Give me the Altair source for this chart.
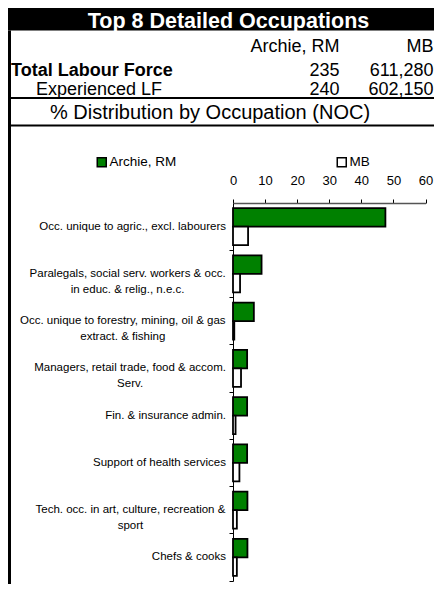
import altair as alt
import pandas as pd

# ---------------- data ----------------
categories = [
    "Occ. unique to agric., excl. labourers",
    "Paralegals, social serv. workers & occ.\nin educ. & relig., n.e.c.",
    "Occ. unique to forestry, mining, oil & gas\nextract. & fishing",
    "Managers, retail trade, food & accom.\nServ.",
    "Fin. & insurance admin.",
    "Support of health services",
    "Tech. occ. in art, culture, recreation &\nsport",
    "Chefs & cooks",
]
series = ["Archie, RM", "MB"]
archie_values = [47.5, 8.9, 6.5, 4.4, 4.4, 4.4, 4.5, 4.5]
mb_values = [4.7, 2.2, 0.4, 2.5, 0.8, 2.0, 1.2, 1.2]
x_ticks = [0, 10, 20, 30, 40, 50, 60]

title_text = "Top 8 Detailed Occupations"
subtitle_text = "% Distribution by Occupation (NOC)"
row_labels = ["Total Labour Force", "Experienced LF"]
total_lf = [235, 611280]
experienced_lf = [240, 602150]

# ---------------- layout ----------------
FONT = "Liberation Sans, Arial, sans-serif"
PAD_L, PAD_T = 225, 195          # plot origin inside chart
W, H = 192.5, 378
CHART_W, CHART_H = 426, 576
OX, OY = PAD_L + 8, PAD_T + 8    # plot origin in page coordinates
X_MAX = 60
RIGHT = 433.5                     # right edge of visible page area

# Arial / Helvetica advance widths (per 1000 em)
_widths = dict(zip("abcdefghijklmnopqrstuvwxyz",
                   [556, 556, 500, 556, 556, 278, 556, 556, 222, 222, 500, 222, 833,
                    556, 556, 556, 556, 333, 500, 278, 556, 500, 722, 500, 500, 500]))
_widths.update(zip("ABCDEFGHIJKLMNOPQRSTUVWXYZ",
                   [667, 667, 722, 722, 667, 611, 778, 722, 278, 500, 667, 556, 833,
                    722, 778, 667, 778, 722, 667, 611, 722, 667, 944, 667, 667, 611]))
_widths.update({" ": 278, ".": 278, ",": 278, "&": 667, "-": 333, "(": 333,
                ")": 333, "%": 889})
_widths.update({d: 556 for d in "0123456789"})


def text_width(s, size):
    return max(sum(_widths.get(c, 556) for c in line) for line in s.split("\n")) * size / 1000


LABEL_SIZE = 11.5
px_per_unit = W / X_MAX

rows = []
for c, a, m in zip(categories, archie_values, mb_values):
    rows.append({"cat": c, "series": series[0], "value": a})
    rows.append({"cat": c, "series": series[1], "value": m})
bars_df = pd.DataFrame(rows)

labels_df = pd.DataFrame({"cat": categories})
labels_df["cx"] = [(-7 - text_width(c, LABEL_SIZE) / 2) / px_per_unit for c in categories]

dummy = pd.DataFrame({"a": [0]})

x_scale = alt.Scale(domain=[0, X_MAX], nice=False, zero=True)
y_scale = alt.Scale(domain=categories, paddingInner=0, paddingOuter=0)
x_axis = alt.Axis(orient="top", values=x_ticks, title=None, grid=False,
                  tickSize=4, tickColor="black", domainColor="#555555",
                  domainWidth=1.5, labelFontSize=13, labelFont=FONT,
                  labelColor="black", labelPadding=12, labelFlush=False,
                  labelOverlap=False, labelBound=False)
y_axis = alt.Axis(labels=False, title=None, bandPosition=1, tickSize=4,
                  tickColor="black", domainColor="black", domainWidth=1,
                  grid=False)

bars = alt.Chart(bars_df).mark_bar(stroke="black", strokeWidth=1.8).encode(
    x=alt.X("value:Q", scale=x_scale, axis=x_axis),
    y=alt.Y("cat:N", sort=categories, scale=y_scale, axis=y_axis),
    yOffset=alt.YOffset("series:N", sort=series, scale=alt.Scale(paddingOuter=0.28, paddingInner=0)),
    color=alt.Color("series:N", sort=series,
                    scale=alt.Scale(domain=series, range=["#008000", "#ffffff"]),
                    legend=alt.Legend(orient="none", legendX=-138, legendY=-48,
                                      direction="horizontal", columns=2,
                                      columnPadding=157, title=None,
                                      symbolType="square", symbolSize=81,
                                      symbolStrokeColor="black", symbolStrokeWidth=1.5,
                                      labelFontSize=13.5, labelFont=FONT,
                                      labelColor="black", labelOffset=1, padding=0)),
)

cat_labels = alt.Chart(labels_df).mark_text(
    align="center", baseline="middle", fontSize=LABEL_SIZE, font=FONT,
    lineBreak="\n", lineHeight=16, color="black").encode(
    x=alt.X("cx:Q", scale=x_scale, axis=x_axis),
    y=alt.Y("cat:N", sort=categories, scale=y_scale, axis=y_axis),
    text="cat:N",
)


def txt(s, x, y, size, align="left", weight="normal", color="black", baseline="middle"):
    return alt.Chart(dummy).mark_text(
        text=s, align=align, baseline=baseline, fontSize=size, fontWeight=weight,
        color=color, font=FONT).encode(x=alt.value(x - OX), y=alt.value(y - OY))


def rule(x1, y1, x2, y2, width, color="black"):
    return alt.Chart(dummy).mark_rule(strokeWidth=width, color=color).encode(
        x=alt.value(x1 - OX), x2=alt.value(x2 - OX),
        y=alt.value(y1 - OY), y2=alt.value(y2 - OY))


band = alt.Chart(dummy).mark_rect(color="black").encode(
    x=alt.value(8 - OX), x2=alt.value(442 - OX),
    y=alt.value(8 - OY), y2=alt.value(30.5 - OY))

HS = 18
fmt = lambda v: f"{v:,}"
header = [
    band,
    txt(title_text, 228.5, 27.5, 21.5, align="center", weight="bold", color="white",
        baseline="alphabetic"),
    txt(series[0], 339.5, 46.5, HS, align="right"),
    txt(series[1], RIGHT, 46.5, HS, align="right"),
    txt(row_labels[0], 11, 71, HS, weight="bold"),
    txt(fmt(total_lf[0]), 339.5, 71, HS, align="right"),
    txt(fmt(total_lf[1]), RIGHT, 71, HS, align="right"),
    txt(row_labels[1], 36, 89.5, HS),
    txt(fmt(experienced_lf[0]), 339.5, 89.5, HS, align="right"),
    txt(fmt(experienced_lf[1]), RIGHT, 89.5, HS, align="right"),
    txt(subtitle_text, 210, 112.5, 20, align="center"),
    rule(8, 98, 442, 98, 2),
    rule(8, 125.5, 442, 125.5, 2),
    rule(9.5, 30.5, 9.5, 592, 3),
]

chart = alt.layer(bars, cat_labels, *header).properties(
    width=W, height=H,
    autosize=alt.AutoSizeParams(type="none"),
    padding={"left": PAD_L, "top": PAD_T, "right": CHART_W - PAD_L - W,
             "bottom": CHART_H - PAD_T - H},
    background="white",
).configure_view(strokeWidth=0)

chart.save("out.html", embed_options={"renderer": "svg", "actions": False})
